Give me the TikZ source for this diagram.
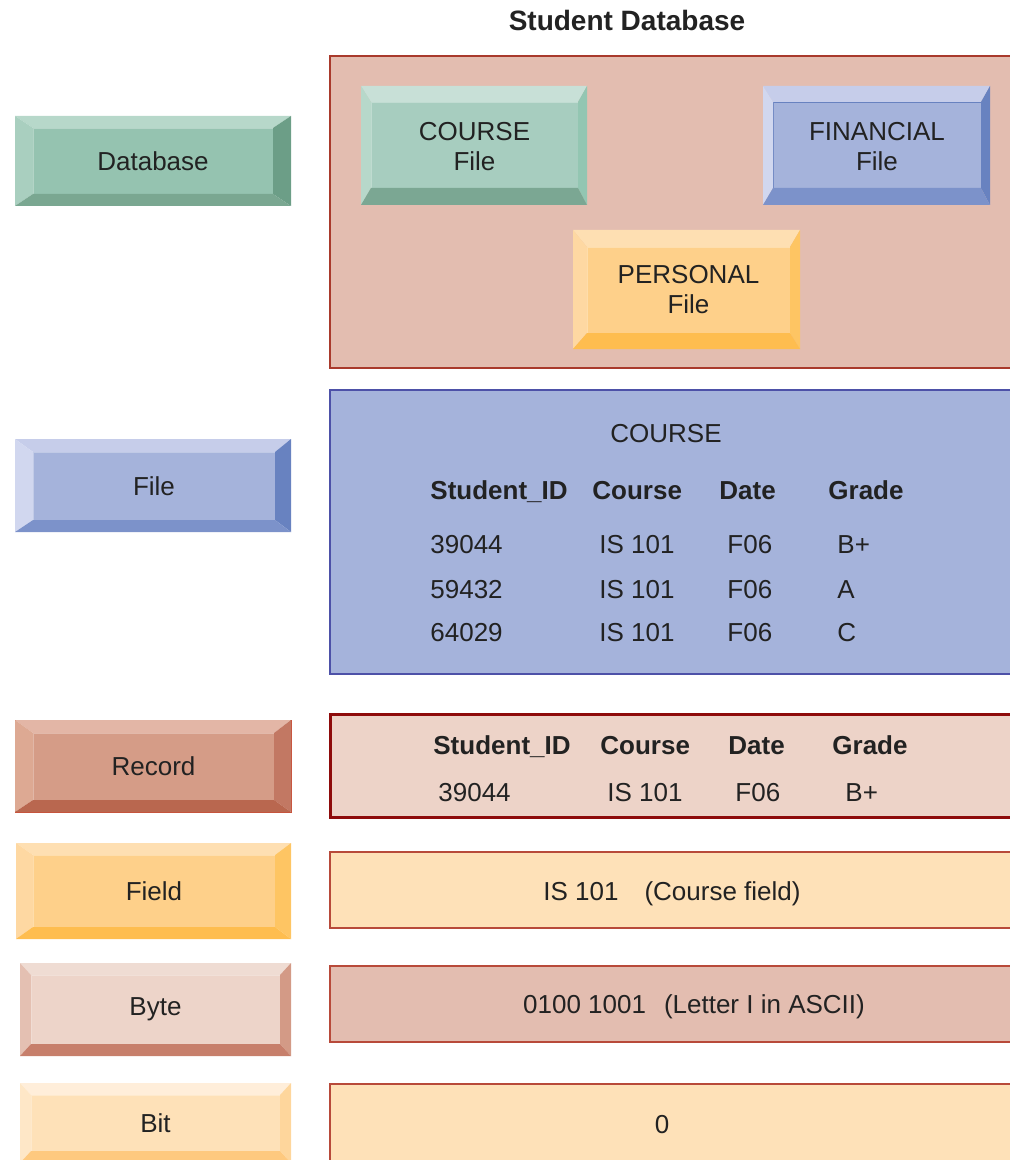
\documentclass[tikz,border=0pt]{standalone}
\usepackage{fontspec}
\setmainfont{Liberation Sans}
\usetikzlibrary{fit}
\definecolor{textgray}{HTML}{222222}
% panels
\definecolor{dbpink}{HTML}{E3BDB0}
\definecolor{dbborder}{HTML}{A93A2C}
\definecolor{fileblue}{HTML}{A5B3DB}
\definecolor{fileborder}{HTML}{4D51A8}
\definecolor{recpink}{HTML}{EDD3C8}
\definecolor{recborder}{HTML}{8E0B0B}
\definecolor{cream}{HTML}{FEE1B8}
\definecolor{thinborder}{HTML}{B84A3A}
% green buttons
\definecolor{gface}{HTML}{95C3B0}
\definecolor{gtop}{HTML}{B7D8CA}
\definecolor{gleft}{HTML}{A9CFBF}
\definecolor{gright}{HTML}{6C9E87}
\definecolor{gbottom}{HTML}{7AA791}
\definecolor{cface}{HTML}{A7CDBF}
\definecolor{ctop}{HTML}{C8E0D7}
\definecolor{cleft}{HTML}{B7D8CA}
\definecolor{cright}{HTML}{93C6B2}
\definecolor{cbottom}{HTML}{7BA793}
% blue buttons
\definecolor{btop}{HTML}{C6CDEA}
\definecolor{bleft}{HTML}{D1D7EF}
\definecolor{bright}{HTML}{6882C0}
\definecolor{bbottom}{HTML}{7C92CA}
% yellow buttons
\definecolor{yface}{HTML}{FED08A}
\definecolor{ytop}{HTML}{FEDFB2}
\definecolor{yleft}{HTML}{FED8A2}
\definecolor{yright}{HTML}{FEC563}
\definecolor{ybottom}{HTML}{FEBD4F}
% red buttons
\definecolor{rface}{HTML}{D59C87}
\definecolor{rtop}{HTML}{E3B6A6}
\definecolor{rleft}{HTML}{DDA993}
\definecolor{rright}{HTML}{C27863}
\definecolor{rbottom}{HTML}{B9674F}
\definecolor{routline}{HTML}{C9523B}
% pale buttons
\definecolor{pface}{HTML}{EDD4C9}
\definecolor{ptop}{HTML}{EFDCD3}
\definecolor{pleft}{HTML}{E4C0B2}
\definecolor{pright}{HTML}{D39A86}
\definecolor{pbottom}{HTML}{C77F6B}
\definecolor{lface}{HTML}{FEE1B8}
\definecolor{ltop}{HTML}{FFEEDA}
\definecolor{lleft}{HTML}{FEE7C7}
\definecolor{lright}{HTML}{FED69C}
\definecolor{lbottom}{HTML}{FEC97F}

% bevel: outer node, face node, top, left, right, bottom
\newcommand{\bevelbox}[6]{%
  \fill[#3] (#1.north west) -- (#1.north east) -- (#2.north east) -- (#2.north west) -- cycle;
  \fill[#4] (#1.north west) -- (#2.north west) -- (#2.south west) -- (#1.south west) -- cycle;
  \fill[#5] (#1.north east) -- (#1.south east) -- (#2.south east) -- (#2.north east) -- cycle;
  \fill[#6] (#1.south west) -- (#1.south east) -- (#2.south east) -- (#2.south west) -- cycle;
}

\begin{document}
\begin{tikzpicture}[x=0.5pt, y=-0.5pt,
  every node/.style={font=\fontsize{13}{15}\selectfont, text=textgray},
  btn/.style={inner sep=0pt, outer sep=0pt},
  face/.style={fill=#1, draw=#1!70!white, line width=0.4pt, inner sep=0pt, outer sep=0pt},
  btntext/.style={align=center, inner sep=0pt},
  panel/.style={fill=#1, inner sep=0pt, outer sep=0pt, line width=0.75pt},
  cell/.style={anchor=base west, inner sep=0pt},
  headcell/.style={cell, font=\fontsize{13}{15}\selectfont\bfseries}]

\useasboundingbox (0,0) rectangle (1010,1160);

% TITLE

\node[font=\fontsize{14}{16}\selectfont\bfseries] (title) at (627,20) {Student Database};

% PANELS

\node[panel=dbpink, draw=dbborder, fit={(330,56) (1015,368)}] (dbpanel) {};
\node[panel=fileblue, draw=fileborder, line width=1pt, fit={(330,390) (1015,674)}] (filepanel) {};
\node[panel=recpink, draw=recborder, line width=1.5pt, fit={(330,714) (1015,817)}] (recpanel) {};
\node[panel=cream, draw=thinborder, fit={(330,852) (1015,928)}] (fieldpanel) {};
\node[panel=dbpink, draw=thinborder, fit={(330,966) (1015,1042)}] (bytepanel) {};
\node[panel=cream, draw=thinborder, fit={(330,1084) (1015,1175)}] (bitpanel) {};

% LEFT BUTTONS

\node[btn, fit={(15,116) (291,206)}] (database) {};
\node[face=gface, fit={(33,128) (273,194)}] (databaseface) {};
\bevelbox{database}{databaseface}{gtop}{gleft}{gright}{gbottom}
\node[btntext] (databasetext) at (databaseface.center) {Database};

\node[btn, fit={(15,439) (291,532)}] (file) {};
\node[face=fileblue, fit={(33,452) (275,520)}] (fileface) {};
\bevelbox{file}{fileface}{btop}{bleft}{bright}{bbottom}
\node[btntext] (filetext) at (fileface.center) {File};

\node[btn, draw=routline, line width=0.5pt, fit={(15,720) (291,812)}] (record) {};
\node[face=rface, fit={(33,733) (274,800)}] (recordface) {};
\bevelbox{record}{recordface}{rtop}{rleft}{rright}{rbottom}
\node[btntext] (recordtext) at (recordface.center) {Record};

\node[btn, fit={(16,843) (291,939)}] (field) {};
\node[face=yface, fit={(33,855) (275,927)}] (fieldface) {};
\bevelbox{field}{fieldface}{ytop}{yleft}{yright}{ybottom}
\node[btntext] (fieldtext) at (fieldface.center) {Field};

\node[btn, fit={(20,963) (291,1056)}] (byte) {};
\node[face=pface, fit={(31,975) (280,1044)}] (byteface) {};
\bevelbox{byte}{byteface}{ptop}{pleft}{pright}{pbottom}
\node[btntext] (bytetext) at (byteface.center) {Byte};

\node[btn, fit={(20,1083) (291,1163)}] (bit) {};
\node[face=lface, fit={(31,1095) (280,1151)}] (bitface) {};
\bevelbox{bit}{bitface}{ltop}{lleft}{lright}{lbottom}
\node[btntext] (bittext) at (bitface.center) {Bit};

% FILES IN THE DATABASE

\node[btn, fit={(361,86) (587,205)}] (course) {};
\node[face=cface, fit={(371,102) (578,188)}] (courseface) {};
\bevelbox{course}{courseface}{ctop}{cleft}{cright}{cbottom}
\node[btntext] (coursetext) at ([yshift=-1pt]courseface.center) {COURSE\\File};

\node[btn, fit={(763,86) (990,205)}] (financial) {};
\node[face=fileblue, draw=bright, fit={(773,102) (981,188)}] (financialface) {};
\bevelbox{financial}{financialface}{btop}{bleft}{bright}{bbottom}
\node[btntext] (financialtext) at ([yshift=-1pt]financialface.center) {FINANCIAL\\File};

\node[btn, fit={(573,230) (800,349)}] (personal) {};
\node[face=yface, fit={(587,247) (790,333)}] (personalface) {};
\bevelbox{personal}{personalface}{ytop}{yleft}{yright}{ybottom}
\node[btntext] (personaltext) at (personalface.center) {PERSONAL\\File};

% COURSE FILE

\node (filetitle) at (666,434) {COURSE};

\node[headcell] (fileid) at (430,499) {Student\_ID};
\node[headcell] (filecourse) at (592,499) {Course};
\node[headcell] (filedate) at (719,499) {Date};
\node[headcell] (filegrade) at (828,499) {Grade};

\node[cell] (idone) at (430,553) {39044};
\node[cell] (courseone) at (599,553) {IS 101};
\node[cell] (dateone) at (727,553) {F06};
\node[cell] (gradeone) at (837,553) {B+};

\node[cell] (idtwo) at (430,598) {59432};
\node[cell] (coursetwo) at (599,598) {IS 101};
\node[cell] (datetwo) at (727,598) {F06};
\node[cell] (gradetwo) at (837,598) {A};

\node[cell] (idthree) at (430,641) {64029};
\node[cell] (coursethree) at (599,641) {IS 101};
\node[cell] (datethree) at (727,641) {F06};
\node[cell] (gradethree) at (837,641) {C};

% ONE RECORD

\node[headcell] (recid) at (433,754) {Student\_ID};
\node[headcell] (reccourse) at (600,754) {Course};
\node[headcell] (recdate) at (728,754) {Date};
\node[headcell] (recgrade) at (832,754) {Grade};

\node[cell] (recidval) at (438,801) {39044};
\node[cell] (reccourseval) at (607,801) {IS 101};
\node[cell] (recdateval) at (735,801) {F06};
\node[cell] (recgradeval) at (845,801) {B+};

% FIELD, BYTE, BIT

\node (fieldvalue) at (672,894) {IS 101\hspace{13pt}(Course field)};
\node (bytevalue) at (694,1007) {0100 1001\hspace{9pt}(Letter I in ASCII)};
\node (bitvalue) at (662,1125) {0};

\end{tikzpicture}
\end{document}
